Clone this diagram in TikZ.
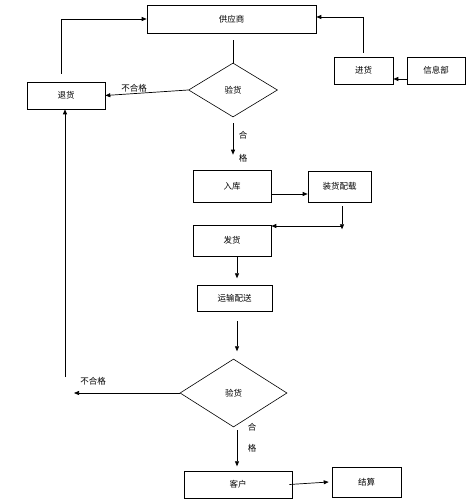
\documentclass[tikz,border=0pt]{standalone}
\usepackage{fontspec}
\newfontfamily\cjk{Noto Sans CJK SC}
\usetikzlibrary{shapes.geometric,arrows.meta}

\begin{document}
\begin{tikzpicture}[x=1pt,y=-1pt,
  box/.style={draw, line width=0.6pt, inner sep=0pt, font=\cjk\fontsize{8.5}{10}\selectfont},
  check/.style={draw, diamond, line width=0.6pt, inner sep=0pt, font=\cjk\fontsize{8.5}{10}\selectfont},
  tag/.style={inner sep=1pt, font=\cjk\fontsize{8.5}{10}\selectfont},
  flow/.style={line width=0.7pt, -{Triangle[length=5pt,width=4pt]}}]
  \useasboundingbox (0,0) rectangle (475,500);

  % Boxes
  \node[box, minimum width=169pt, minimum height=28pt] (supplier) at (231.5,19) {供应商};
  \node[check, minimum width=89pt, minimum height=54pt] (check1) at (233,90) {验货};
  \node[box, minimum width=78pt, minimum height=27pt] (reject1) at (66,95.5) {退货};
  \node[box, minimum width=59pt, minimum height=27pt] (purchase) at (363.5,70.5) {进货};
  \node[box, minimum width=58pt, minimum height=27pt] (info) at (436,70.5) {信息部};
  \node[box, minimum width=78pt, minimum height=32pt] (store) at (232,186) {入库};
  \node[box, minimum width=63pt, minimum height=31pt] (load) at (339.5,186.5) {装货配载};
  \node[box, minimum width=78pt, minimum height=31pt] (ship) at (232,240.5) {发货};
  \node[box, minimum width=75pt, minimum height=26pt] (deliver) at (234.5,298) {运输配送};
  \node[check, minimum width=107pt, minimum height=68pt] (check2) at (233.5,393) {验货};
  \node[box, minimum width=108pt, minimum height=27pt] (customer) at (238,484.5) {客户};
  \node[box, minimum width=69pt, minimum height=30pt] (settle) at (366.5,482) {结算};

  % Top part
  \draw[line width=0.7pt] (check1.north) -- ++(0,-23);
  \draw[flow] (check1.west) -- (reject1.east);
  \node[tag] (no1) at (134,88) {不合格};
  \draw[flow] (reject1.north) ++(-5,-8) |- (supplier.west);
  \draw[flow] (purchase.north) ++(0,-4) |- ([yshift=2pt]supplier.east);
  \draw[flow] ([yshift=-8.5pt]info.west) -- ([yshift=-8.5pt]purchase.east);

  % Middle part
  \draw[flow, shorten <=6pt, shorten >=15pt] (check1.south) -- (check1.south |- store.north);
  \node[tag] (ok1a) at (243,135) {合};
  \node[tag] (ok1b) at (243,158) {格};
  \draw[flow] ([yshift=-8pt]store.east) -- ([yshift=-8pt]store.east -| load.west);
  \coordinate (turn) at (342,226);
  \draw[flow] (load.south) ++(2.5,4) -- ++(0,23);
  \draw[flow] (turn) -- (turn -| ship.east);
  \draw[flow] ([xshift=5pt]ship.south) -- ++(0,22);
  \draw[flow] (deliver.south) ++(2.5,10) -- ++(0,30);

  % Bottom part
  \coordinate (back) at (74,393);
  \draw[flow] (check2.west) -- (back);
  \node[tag] (no2) at (93,381) {不合格};
  \coordinate (up) at (65,377);
  \draw[flow] (up) -- (up |- reject1.south);
  \draw[flow] ([xshift=3.5pt]check2.south) ++(0,3) -- ++(0,36);
  \node[tag] (ok2a) at (252,427) {合};
  \node[tag] (ok2b) at (252,448) {格};
  \draw[flow] ([xshift=-3pt]customer.east) -- ([xshift=-3pt]settle.west);
\end{tikzpicture}
\end{document}
